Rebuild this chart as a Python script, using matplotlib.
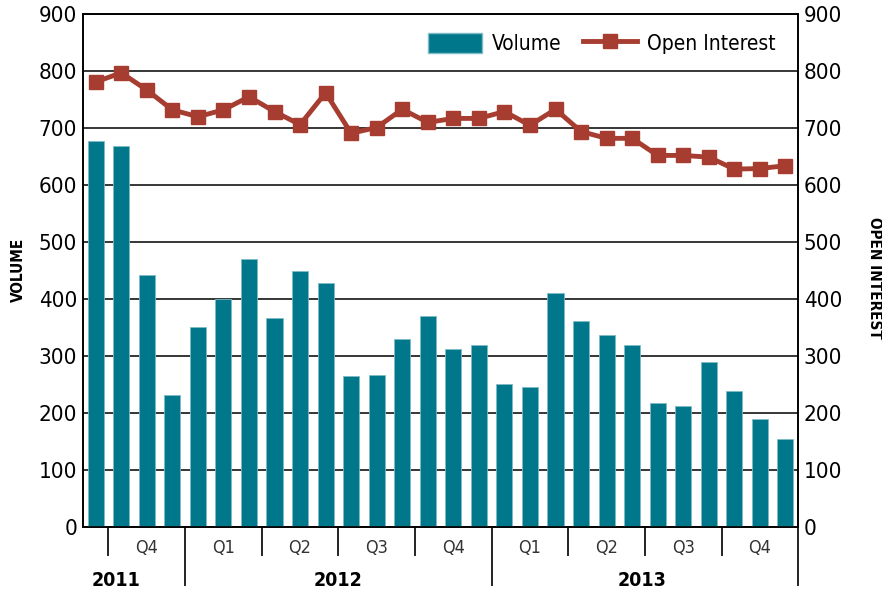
import matplotlib.pyplot as plt
import matplotlib.transforms as mtransforms
from matplotlib.lines import Line2D
from matplotlib.patches import Patch
import numpy as np

plt.rcParams['font.family'] = ['DejaVu Sans']
plt.rcParams['font.stretch'] = 'condensed'

# monthly data, Sep 2011 .. Dec 2013
volume = [678, 669, 443, 232, 350, 400, 471, 367, 450, 428, 264, 267,
          330, 370, 313, 319, 250, 245, 411, 361, 336, 319, 218, 213,
          290, 239, 190, 155]
open_interest = [781, 797, 767, 732, 720, 732, 755, 729, 706, 762, 691, 701,
                 733, 710, 717, 717, 729, 705, 733, 694, 682, 682, 652, 652,
                 649, 628, 629, 634]
quarter_labels = ['Q4', 'Q1', 'Q2', 'Q3', 'Q4', 'Q1', 'Q2', 'Q3', 'Q4']
quarter_bounds = [0.5, 3.5, 6.5, 9.5, 12.5, 15.5, 18.5, 21.5, 24.5, 27.5]
year_labels = ['2011', '2012', '2013']
year_pos = [0.8, 9.5, 21.4]
year_bounds = [3.5, 15.5, 27.5]

teal = '#00778b'
red = '#a63d30'

fig = plt.figure(figsize=(8.82, 5.90), dpi=100)
ax = fig.add_axes([0.094, 0.107, 0.811, 0.869])
ax2 = ax.twinx()

x = np.arange(len(volume))
ax.bar(x, volume, width=0.63, color=teal, edgecolor='#7fbcc6', linewidth=0.6, zorder=3)
ax2.plot(x, open_interest, color=red, lw=3.5, marker='s', markersize=10, zorder=4)

for a in (ax, ax2):
    a.set_ylim(0, 900)
    a.set_yticks(range(0, 901, 100))
    a.set_xlim(-0.5, 27.5)
    a.tick_params(axis='y', length=0, labelsize=16, pad=4)
    a.tick_params(axis='x', length=0, labelbottom=False)
    for s in a.spines.values():
        s.set_linewidth(1.2)
ax.grid(axis='y', color='black', lw=1.1, zorder=0)
ax.set_axisbelow(True)

fig.text(18 / 882, 1 - 270 / 590, 'VOLUME', fontsize=11, fontweight='bold',
         rotation=90, ha='center', va='center')
fig.text(874 / 882, 1 - 278 / 590, 'OPEN INTEREST', fontsize=11, fontweight='bold',
         rotation=-90, ha='center', va='center')

# category axis underneath
trans = mtransforms.blended_transform_factory(ax.transData, ax.transAxes)
for b in quarter_bounds[:-1]:
    bottom = -0.113 if b in year_bounds else -0.055
    ax.plot([b, b], [0, bottom], color='#222222', lw=1.4, transform=trans, clip_on=False)
ax.plot([27.5, 27.5], [0, -0.113], color='#222222', lw=1.4, transform=trans, clip_on=False)
for i, lab in enumerate(quarter_labels):
    mid = (quarter_bounds[i] + quarter_bounds[i + 1]) / 2
    ax.text(mid, -0.041, lab, transform=trans, ha='center', va='center',
            fontsize=13, color='#333333')
for pos, lab in zip(year_pos, year_labels):
    ax.text(pos, -0.104, lab, transform=trans, ha='center', va='center',
            fontsize=14, fontweight='bold')

handles = [Patch(facecolor=teal, edgecolor='#7fbcc6'),
           Line2D([], [], color=red, lw=3.5, marker='s', markersize=10)]
ax2.legend(handles, ['Volume', 'Open Interest'], loc='upper right',
           bbox_to_anchor=(0.995, 1.0), ncol=2, frameon=False, fontsize=15,
           handlelength=2.6, handleheight=1.1, columnspacing=1.0, handletextpad=0.5)

fig.savefig('out.png', dpi=100)
